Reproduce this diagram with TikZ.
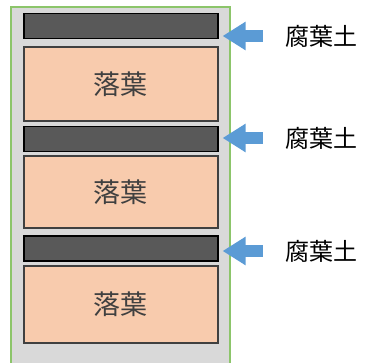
\documentclass[tikz,border=0pt]{standalone}
\usepackage{fontspec}
\newfontfamily\jpfont{Noto Sans CJK JP}
\usetikzlibrary{arrows.meta}
\definecolor{leafpeach}{HTML}{F8CBAD}
\definecolor{humusgray}{HTML}{595959}
\definecolor{framegreen}{HTML}{8CC56A}
\definecolor{panelgray}{HTML}{D9D9D9}
\definecolor{arrowblue}{HTML}{5B9BD5}

\tikzset{
  humus/.style={draw=black, line width=1.2pt, fill=humusgray,
    minimum width=194pt, minimum height=25pt, inner sep=0pt},
  leaves/.style={draw=black!75, line width=1.2pt, fill=leafpeach,
    minimum width=194pt, inner sep=0pt, text=black!75,
    font=\jpfont\fontsize{27}{27}\selectfont},
  humuslabel/.style={anchor=west, inner sep=0pt,
    font=\jpfont\fontsize{24}{24}\selectfont},
  feedarrow/.style={arrowblue, line width=12pt,
    -{Triangle[width=27pt,length=23pt]}},
}

\begin{document}
\begin{tikzpicture}[x=1pt,y=-1pt]
\useasboundingbox (0,0) rectangle (368,363);

% container
\fill[panelgray] (11,7) rectangle (230,363);
\draw[framegreen, line width=1.2pt] (11,363) -- (11,7) -- (230,7) -- (230,363);

% layers
\node[humus] (humus1) at (121,26) {};
\node[leaves, minimum height=74pt] (leaves1) at (121,84) {落葉};
\node[humus] (humus2) at (121,139) {};
\node[leaves, minimum height=72pt] (leaves2) at (121,192) {落葉};
\node[humus] (humus3) at (121,248.5) {};
\node[leaves, minimum height=77pt] (leaves3) at (121,304.5) {落葉};

% labels
\node[humuslabel] (label1) at (285,36) {腐葉土};
\node[humuslabel] (label2) at (285,138) {腐葉土};
\node[humuslabel] (label3) at (285,251) {腐葉土};

% arrows
\draw[feedarrow] ([xshift=-22pt]label1.west) -- ([xshift=4pt]label1.west -| humus1.east);
\draw[feedarrow] ([xshift=-22pt]label2.west) -- ([xshift=4pt]label2.west -| humus2.east);
\draw[feedarrow] ([xshift=-22pt]label3.west) -- ([xshift=4pt]label3.west -| humus3.east);
\end{tikzpicture}
\end{document}
